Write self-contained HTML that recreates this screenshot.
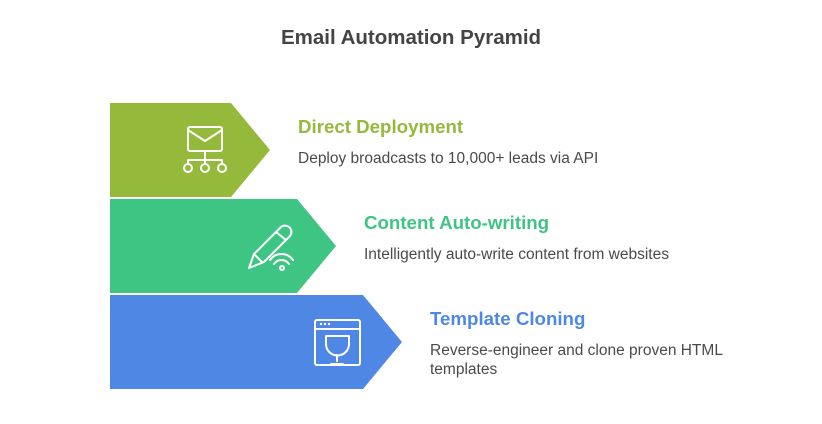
<!DOCTYPE html>
<html><head><meta charset="utf-8"><style>
body{margin:0;background:#fff;width:822px;height:424px;overflow:hidden;font-family:"Liberation Sans",sans-serif}
.t{position:absolute;font-weight:bold;font-size:18.7px}
.d{position:absolute;font-size:15.5px;color:#4a4a4a;line-height:19px}
</style></head><body>
<div style="position:absolute;top:26px;width:822px;text-align:center;font-size:20.5px;font-weight:bold;color:#444">Email Automation Pyramid</div>
<svg width="822" height="424" style="position:absolute;left:0;top:0">
<polygon points="110,103 231,103 270,150 231,197 110,197" fill="#95b93a"/>
<polygon points="110,199 297,199 336,246 297,293 110,293" fill="#3ec483"/>
<polygon points="110,295 363,295 402,342 363,389 110,389" fill="#4e88e4"/>
<g fill="none" stroke="#fff" stroke-width="2" stroke-linecap="round" stroke-linejoin="round">
<rect x="188" y="127" width="34" height="24" rx="2"/>
<path d="M188,130 L205,141 L222,130"/>
<path d="M205,151 V160 M188,160 H222 M188,160 V164 M205,160 V164 M222,160 V164"/>
<circle cx="188" cy="168" r="4"/><circle cx="205" cy="168" r="4"/><circle cx="222" cy="168" r="4"/>
<path d="M249,268 L254,254 L280,228 A5,5 0 0 1 290,236 L264,262 Z M254,254 L262,262 M276,232 L286,240"/>
<path d="M270,260 A14,14 0 0 1 293,260 M274,264 A9,9 0 0 1 289,264"/>
<circle cx="282" cy="268" r="2"/>
<rect x="315" y="320" width="45" height="45" rx="2"/>
<path d="M315,329 H360"/>
<path d="M326,336 H349 V344 A11,11 0 0 1 326,344 Z M337,355 V361 M331,364 H343"/>
</g>
<g fill="#fff"><circle cx="321" cy="324" r="1.2"/><circle cx="325" cy="324" r="1.2"/><circle cx="329" cy="324" r="1.2"/></g>
</svg>
<div class="t" style="left:298px;top:116px;color:#95b93a">Direct Deployment</div>
<div class="d" style="left:298px;top:149px">Deploy broadcasts to 10,000+ leads via API</div>
<div class="t" style="left:364px;top:212px;color:#3ec483">Content Auto-writing</div>
<div class="d" style="left:364px;top:245px">Intelligently auto-write content from websites</div>
<div class="t" style="left:430px;top:308px;color:#4e88e4">Template Cloning</div>
<div class="d" style="left:430px;top:341px;width:300px">Reverse-engineer and clone proven HTML templates</div>
</body></html>
